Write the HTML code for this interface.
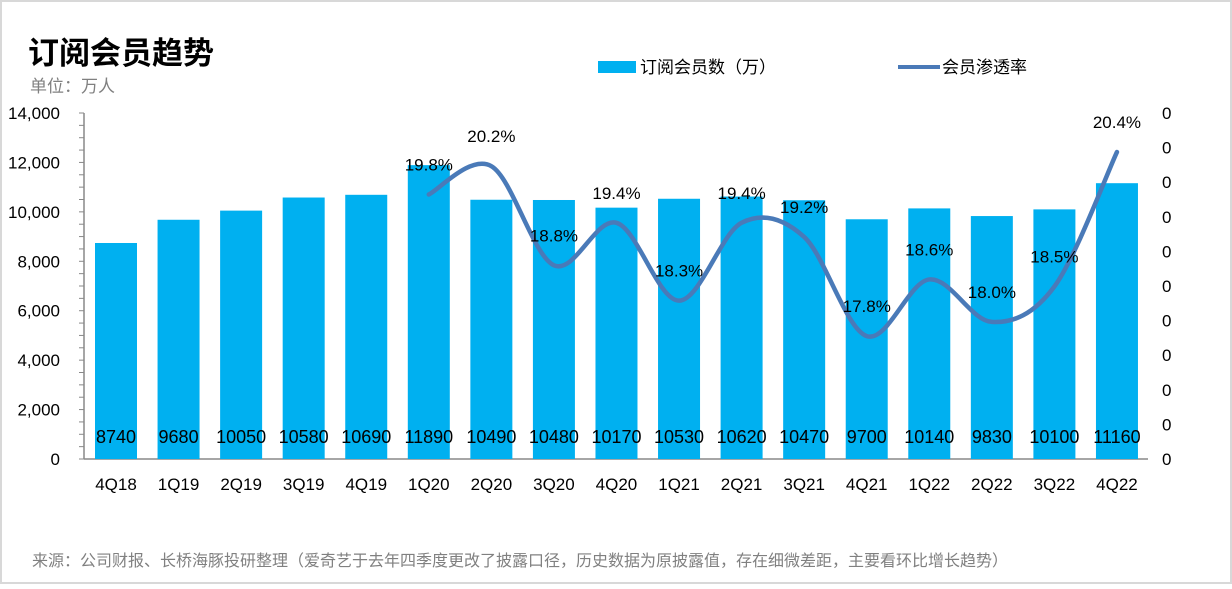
<!DOCTYPE html>
<html><head><meta charset="utf-8"><style>
body{margin:0;background:#fff;}
svg text{font-family:"Liberation Sans","Noto Sans CJK SC",sans-serif;}
</style></head><body>
<svg id="c" width="1232" height="584" xmlns="http://www.w3.org/2000/svg">
<rect x="1" y="1" width="1230" height="582" fill="#fff" stroke="#d8d8d8" stroke-width="2"/>
<text x="28" y="64" font-size="31" font-weight="bold" fill="#000">订阅会员趋势</text>
<text x="30" y="92" font-size="17" fill="#808080">单位：万人</text>
<rect x="598" y="61" width="38" height="12" fill="#00b0f0"/>
<text x="640" y="73" font-size="17" fill="#000">订阅会员数（万）</text>
<line x1="898" y1="67" x2="940" y2="67" stroke="#4a7ab8" stroke-width="4"/>
<text x="942" y="73" font-size="17" fill="#000">会员渗透率</text>
<g id="plot"></g>
<text x="32" y="566" font-size="16" fill="#808080">来源：公司财报、长桥海豚投研整理（爱奇艺于去年四季度更改了披露口径，历史数据为原披露值，存在细微差距，主要看环比增长趋势）</text>
</svg>
<script>
const categories=["4Q18","1Q19","2Q19","3Q19","4Q19","1Q20","2Q20","3Q20","4Q20","1Q21","2Q21","3Q21","4Q21","1Q22","2Q22","3Q22","4Q22"];
const members=[8740,9680,10050,10580,10690,11890,10490,10480,10170,10530,10620,10470,9700,10140,9830,10100,11160];
const rates=[null,null,null,null,null,19.8,20.2,18.8,19.4,18.3,19.4,19.2,17.8,18.6,18.0,18.5,20.4];
const leftTicks=[0,2000,4000,6000,8000,10000,12000,14000];
const NS="http://www.w3.org/2000/svg";
const g=document.getElementById('plot');
function el(t,a){const e=document.createElementNS(NS,t);for(const k in a)e.setAttribute(k,a[k]);g.appendChild(e);return e;}
const x0=116,dx=62.56,yBase=459,yTop=113;
const xs=i=>x0+i*dx;
const yL=v=>yBase-(v/14000)*(yBase-yTop);
const yR=v=>152+(20.4-v)*70.8;
// axis
let ax=el('line',{x1:84,y1:yTop,x2:84,y2:yBase,stroke:'#888','stroke-width':1.5});


for(let v=0;v<=14000;v+=500){const t=el('line',{x1:79,y1:yL(v),x2:84,y2:yL(v),stroke:'#888','stroke-width':1});

}
leftTicks.forEach(v=>{const t=el('text',{x:60,y:yL(v)+6,'font-size':17,'text-anchor':'end',fill:'#000'});t.textContent=v.toLocaleString('en-US');

});
for(let i=0;i<=10;i++){const t=el('text',{x:1162,y:yBase-i*34.6+6,'font-size':17,fill:'#000'});t.textContent='0';

}
let xa=el('line',{x1:84,y1:yBase,x2:1148,y2:yBase,stroke:'#888','stroke-width':1.5});


members.forEach((v,i)=>{const b=el('rect',{x:xs(i)-21,y:yL(v),width:42,height:yBase-yL(v),fill:'#00b0f0'});


const t=el('text',{x:xs(i),y:443,'font-size':18,'text-anchor':'middle',fill:'#000'});t.textContent=v;


const c=el('text',{x:xs(i),y:490,'font-size':17,'text-anchor':'middle',fill:'#000'});c.textContent=categories[i];

});
const pts=[];rates.forEach((v,i)=>{if(v!=null)pts.push([xs(i),yR(v),v]);});
let d='M'+pts[0][0]+','+pts[0][1];
for(let i=0;i<pts.length-1;i++){const p0=pts[Math.max(0,i-1)],p1=pts[i],p2=pts[i+1],p3=pts[Math.min(pts.length-1,i+2)];
d+=' C'+(p1[0]+(p2[0]-p0[0])/6)+','+(p1[1]+(p2[1]-p0[1])/6)+' '+(p2[0]-(p3[0]-p1[0])/6)+','+(p2[1]-(p3[1]-p1[1])/6)+' '+p2[0]+','+p2[1];}
const ln=el('path',{d:d,fill:'none',stroke:'#4a7ab8','stroke-width':4.5,'stroke-linecap':'round'});


pts.forEach(p=>{const t=el('text',{x:p[0],y:p[1]-24,'font-size':17,'text-anchor':'middle',fill:'#000'});t.textContent=p[2].toFixed(1)+'%';

});
</script>
</body></html>
